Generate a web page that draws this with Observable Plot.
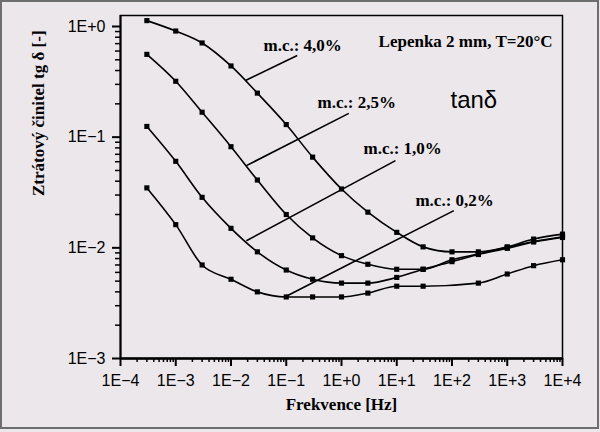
<!DOCTYPE html>
<html><head><meta charset="utf-8">
<script src="https://cdn.jsdelivr.net/npm/d3@7"></script>
<script src="https://cdn.jsdelivr.net/npm/@observablehq/plot@0.6"></script>
<style>
html,body{margin:0;padding:0;background:#ece7eb;}
#wrap{position:relative;width:600px;height:432px;overflow:hidden;}
#border{position:absolute;left:0;top:0;width:599px;height:429px;box-sizing:border-box;border:2px solid #6e6e6e;pointer-events:none;}
</style></head>
<body><div id="wrap"><div id="chart"></div><div id="border"></div></div>
<script>
// Frequencies [Hz]
const freq = [3e-4, 1e-3, 3e-3, 1e-2, 3e-2, 1e-1, 3e-1, 1, 3, 10, 30, 100, 300, 1e3, 3e3, 1e4];
// tan delta for each moisture content
const mc40 = [1.13, 0.91, 0.71, 0.44, 0.25, 0.13, 0.066, 0.034, 0.021, 0.0138, 0.0102, 0.0092, 0.0092, 0.0102, 0.0120, 0.0133];
const mc25 = [0.56, 0.32, 0.168, 0.082, 0.041, 0.020, 0.0123, 0.0085, 0.0071, 0.0064, 0.0064, 0.0078, 0.0088, 0.0101, 0.0114, 0.0126];
const mc10 = [0.125, 0.0605, 0.0286, 0.015, 0.0092, 0.0063, 0.0052, 0.0048, 0.0048, 0.0054, 0.0064, 0.0075, 0.0087, 0.0099, 0.0113, 0.0124];
const mc02 = [0.0348, 0.0162, 0.0070, 0.0052, 0.0040, 0.0036, 0.0036, 0.0036, 0.0039, 0.0045, 0.0045, null, 0.0048, 0.0058, 0.0069, 0.0078];
const seriesNames = ["m.c.: 4,0%", "m.c.: 2,5%", "m.c.: 1,0%", "m.c.: 0,2%"];

// Tick values and labels
const xTicks = [1e-4, 1e-3, 1e-2, 1e-1, 1, 10, 100, 1e3, 1e4];
const xTickLabels = ["1E\u22124", "1E\u22123", "1E\u22122", "1E\u22121", "1E+0", "1E+1", "1E+2", "1E+3", "1E+4"];
const yTicks = [1e-3, 1e-2, 1e-1, 1];
const yTickLabels = ["1E\u22123", "1E\u22122", "1E\u22121", "1E+0"];

// Annotation labels (data coordinates)
const labelX = [0.0387, 0.368, 2.5, 21.8];
const labelY = [0.673, 0.207, 0.0789, 0.0267];
const leadX1 = [0.0183, 0.019, 0.019, 0.0904];
const leadY1 = [0.325, 0.0553, 0.0116, 0.00356];
const leadX2 = [0.158, 1.355, 9.48, 108];
const leadY2 = [0.547, 0.164, 0.0614, 0.0217];

const seriesValues = [mc40, mc25, mc10, mc02];
const rows = [];
seriesValues.forEach((vals, s) => vals.forEach((v, i) => {
  if (v != null) rows.push({series: seriesNames[s], f: freq[i], v});
}));

const minor = (lo, hi) => { const out = []; for (let e = lo; e < hi; e++) for (let k = 2; k <= 9; k++) out.push(k * Math.pow(10, e)); return out; };
const xMinor = minor(-4, 4);
const yMinor = minor(-3, 0);

const xLab = d => xTickLabels[Math.round(Math.log10(d)) + 4];
const yLab = d => yTickLabels[Math.round(Math.log10(d)) + 3];

const serif = "Liberation Serif, Times New Roman, serif";
const sans = "Liberation Sans, Arial, sans-serif";
const idx = [0, 1, 2, 3];

const chart = Plot.plot({
  width: 600, height: 432,
  marginLeft: 120, marginRight: 38, marginTop: 15, marginBottom: 74,
  style: {background: "transparent", fontFamily: sans, fontSize: "16px", color: "black"},
  x: {type: "log", domain: [1e-4, 1e4]},
  y: {type: "log", domain: [1e-3, 1.257]},
  marks: [
    Plot.frame({stroke: "black", strokeWidth: 1.5}),
    Plot.axisX(xMinor, {tickSize: 4, tickFormat: () => "", label: null, strokeWidth: 1.5}),
    Plot.axisX(xTicks, {tickSize: 8, tickPadding: 8, tickFormat: xLab, label: null, fontSize: 16, fontFamily: sans, strokeWidth: 2}),
    Plot.axisY(yMinor, {tickSize: 5, tickFormat: () => "", label: null, strokeWidth: 1.5}),
    Plot.axisY(yTicks, {tickSize: 8, tickPadding: 7, tickFormat: yLab, label: null, fontSize: 16, fontFamily: sans, strokeWidth: 2}),
    Plot.ruleY([1e-3], {stroke: "black", strokeWidth: 2.5}),
    Plot.ruleX([1e-4], {stroke: "black", strokeWidth: 2}),
    Plot.line(rows, {x: "f", y: "v", z: "series", stroke: "black", strokeWidth: 1.6, curve: "monotone-x"}),
    Plot.dot(rows, {x: "f", y: "v", symbol: "square", r: 2.9, fill: "black", stroke: "none"}),
    Plot.link(idx, {x1: i => leadX1[i], y1: i => leadY1[i], x2: i => leadX2[i], y2: i => leadY2[i], stroke: "black", strokeWidth: 1.6}),
    Plot.text(idx, {x: i => labelX[i], y: i => labelY[i], text: i => seriesNames[i], textAnchor: "start", fontFamily: serif, fontWeight: "bold", fontSize: 17, fill: "black"}),
    Plot.text(["Lepenka 2 mm, T=20\u00B0C"], {frameAnchor: "top-right", dx: -10, dy: 19, textAnchor: "end", fontFamily: serif, fontWeight: "bold", fontSize: 17, fill: "black"}),
    Plot.text(["tan\u03B4"], {frameAnchor: "top-right", dx: -112, dy: 75, textAnchor: "start", fontFamily: sans, fontSize: 24, fill: "black"}),
    Plot.text(["Frekvence [Hz]"], {frameAnchor: "bottom", dy: 51, fontFamily: serif, fontWeight: "bold", fontSize: 17, fill: "black"}),
    Plot.text(["Ztr\u00E1tov\u00FD \u010Dinitel tg \u03B4 [-]"], {frameAnchor: "left", dx: -82, dy: 9, rotate: -90, fontFamily: serif, fontWeight: "bold", fontSize: 17, fill: "black"})
  ]
});
document.getElementById("chart").appendChild(chart);
</script>
</body></html>
